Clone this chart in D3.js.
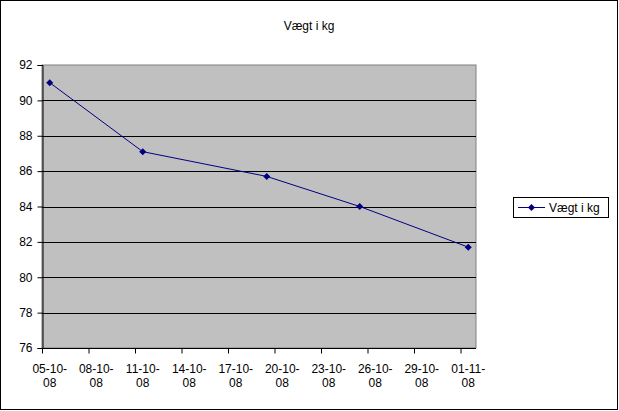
<!DOCTYPE html>
<html>
<head>
<meta charset="utf-8">
<script src="https://cdn.jsdelivr.net/npm/d3@7"></script>
<style>
  body { margin: 0; background: #fff; }
  svg { display: block; font-family: "Liberation Sans", Arial, sans-serif; }
</style>
</head>
<body>
<svg id="chart" width="619" height="411"></svg>
<script>
// data
const title = "Vægt i kg";
const seriesName = "Vægt i kg";
const dates = ["05-10-08", "11-10-08", "19-10-08", "25-10-08", "01-11-08"];
const weights = [91.0, 87.1, 85.7, 84.0, 81.7];
const tickLabels = ["05-10-08", "08-10-08", "11-10-08", "14-10-08", "17-10-08",
  "20-10-08", "23-10-08", "26-10-08", "29-10-08", "01-11-08"];
const yTicks = [76, 78, 80, 82, 84, 86, 88, 90, 92];

const parse = d3.utcParse("%d-%m-%y");
const day = 864e5;

const svg = d3.select("#chart");
const plot = { left: 42, top: 65, right: 476, bottom: 348 };

// outer frame
svg.append("rect")
  .attr("x", 0.5).attr("y", 0.5)
  .attr("width", 617).attr("height", 409)
  .attr("fill", "#fff").attr("stroke", "#000");

// each day is one slot, the point sits in the middle of it
const first = parse(dates[0]);
const last = parse(dates[dates.length - 1]);
const x = d3.scaleUtc()
  .domain([first, new Date(+last + day)])
  .range([plot.left, plot.right]);
const y = d3.scaleLinear()
  .domain([76, 92])
  .range([plot.bottom, plot.top]);

const mid = d => new Date(+d + day / 2);

svg.append("rect")
  .attr("x", plot.left).attr("y", plot.top)
  .attr("width", plot.right - plot.left).attr("height", plot.bottom - plot.top)
  .attr("fill", "#c0c0c0").attr("stroke", "#808080");

// gridlines
svg.append("g")
  .selectAll("line")
  .data(yTicks.filter(v => v > 76 && v < 92))
  .join("line")
    .attr("x1", plot.left).attr("x2", plot.right)
    .attr("y1", d => Math.round(y(d)) + 0.5).attr("y2", d => Math.round(y(d)) + 0.5)
    .attr("stroke", "#000");

// y axis
const yAxis = svg.append("g")
  .attr("transform", `translate(${plot.left + 0.5},0)`)
  .call(d3.axisLeft(y).tickValues(yTicks).tickSize(5).tickPadding(5).tickFormat(d3.format("d")));
yAxis.selectAll("text").attr("font-size", 12).attr("font-family", "Liberation Sans, Arial, sans-serif").attr("fill", "#000");
yAxis.selectAll("line, path").attr("stroke", "#000");

// x axis: tick marks at slot edges, labels centred in the slot
const tickDates = tickLabels.map(parse);
const xAxis = svg.append("g")
  .attr("transform", `translate(0,${plot.bottom + 0.5})`)
  .call(d3.axisBottom(x).tickValues(tickDates).tickSize(5).tickFormat(""));
xAxis.select("path").attr("d", `M${plot.left},0H${plot.right}`);
xAxis.selectAll("line, path").attr("stroke", "#000");

const lab = svg.append("g")
  .selectAll("text")
  .data(tickLabels)
  .join("text")
    .attr("x", d => x(mid(parse(d))))
    .attr("y", 373)
    .attr("text-anchor", "middle")
    .attr("font-size", 12)
    .attr("fill", "#000");
lab.append("tspan").text(d => d.slice(0, 6));
lab.append("tspan")
  .attr("x", d => x(mid(parse(d))))
  .attr("dy", 14)
  .text(d => d.slice(6));

// series
const points = dates.map((d, i) => ({ date: mid(parse(d)), value: weights[i] }));
const navy = "#000080";
svg.append("path")
  .datum(points)
  .attr("fill", "none")
  .attr("stroke", navy)
  .attr("stroke-width", 1)
  .attr("d", d3.line().x(d => x(d.date)).y(d => y(d.value)));

const diamond = d3.symbol().type(d3.symbolDiamond2).size(32);
svg.append("g")
  .selectAll("path")
  .data(points)
  .join("path")
    .attr("transform", d => `translate(${x(d.date)},${y(d.value)})`)
    .attr("d", diamond)
    .attr("fill", navy);

// title
svg.append("text")
  .attr("x", 309).attr("y", 30)
  .attr("text-anchor", "middle")
  .attr("font-size", 12)
  .text(title);

// legend
const lg = svg.append("g").attr("transform", "translate(513,197)");
lg.append("rect")
  .attr("x", 0.5).attr("y", 0.5).attr("width", 95).attr("height", 20)
  .attr("fill", "#fff").attr("stroke", "#000");
lg.append("line")
  .attr("x1", 5).attr("x2", 32).attr("y1", 10.5).attr("y2", 10.5)
  .attr("stroke", navy);
lg.append("path")
  .attr("transform", "translate(18.5,10.5)")
  .attr("d", diamond)
  .attr("fill", navy);
lg.append("text")
  .attr("x", 36).attr("y", 15)
  .attr("font-size", 12)
  .text(seriesName);
</script>
</body>
</html>
